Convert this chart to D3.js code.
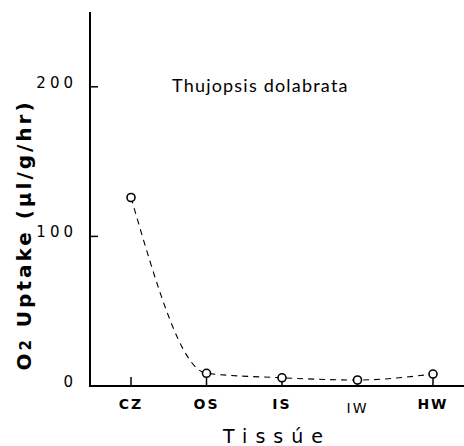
<!DOCTYPE html>
<html>
<head>
<meta charset="utf-8">
<script src="https://cdn.jsdelivr.net/npm/d3@7"></script>
<style>
  body { margin: 0; background: #fff; }
  svg { display: block; }
</style>
</head>
<body>
<div id="chart"></div>
<script>
const tissues = ["CZ", "OS", "IS", "IW", "HW"];
const uptake = [126, 8.5, 5.5, 4, 8];
const yTicks = [0, 100, 200];

const width = 464, height = 446;
const x = d3.scalePoint().domain(tissues).range([131, 433]);
const y = d3.scaleLinear().domain([0, 250]).range([386, 12]);
const axisX = 90;

const svg = d3.select("#chart").append("svg")
  .attr("width", width).attr("height", height);

// axes lines
svg.append("line").attr("x1", axisX).attr("x2", axisX)
  .attr("y1", y(250)).attr("y2", y(0) + 1)
  .attr("stroke", "#000").attr("stroke-width", 2);
svg.append("line").attr("x1", axisX - 1).attr("x2", width)
  .attr("y1", y(0)).attr("y2", y(0))
  .attr("stroke", "#000").attr("stroke-width", 2);

// y ticks (inside) and labels
svg.selectAll(".ytick").data(yTicks.filter(d => d > 0)).join("line")
  .attr("x1", axisX).attr("x2", axisX + 8)
  .attr("y1", d => y(d)).attr("y2", d => y(d))
  .attr("stroke", "#000").attr("stroke-width", 1.5);
svg.selectAll(".ylab").data(yTicks).join("text")
  .attr("x", 77).attr("y", d => y(d) + 1)
  .attr("text-anchor", "end")
  .attr("font-family", "DejaVu Sans")
  .attr("font-size", 15)
  .attr("letter-spacing", 4)
  .text(d => d);

// x ticks (upward)
svg.selectAll(".xtick").data(tissues).join("line")
  .attr("x1", d => x(d)).attr("x2", d => x(d))
  .attr("y1", y(0)).attr("y2", y(0) - 9)
  .attr("stroke", "#000").attr("stroke-width", 1.5);
svg.selectAll(".xlab").data(tissues).join("text")
  .attr("x", d => x(d)).attr("y", d => d === "IW" ? 413 : 409)
  .attr("text-anchor", "middle")
  .attr("font-family", "DejaVu Sans")
  .attr("font-weight", d => d === "IW" ? "normal" : "bold")
  .attr("font-size", 14)
  .attr("letter-spacing", 2)
  .text(d => d);

// axis titles
svg.append("text")
  .attr("x", 277).attr("y", 443)
  .attr("text-anchor", "middle")
  .attr("font-family", "DejaVu Sans")
  .attr("font-size", 19)
  .attr("letter-spacing", 8)
  .text("Tissúe");

svg.append("text")
  .attr("transform", "translate(31,235) rotate(-90)")
  .attr("text-anchor", "middle")
  .attr("font-family", "DejaVu Sans")
  .attr("font-weight", "bold")
  .attr("font-size", 20)
  .attr("letter-spacing", 3)
  .html('O<tspan font-size="15">2</tspan> Uptake (µl/g/hr)');

// species name
svg.append("text")
  .attr("x", 172).attr("y", 92)
  .attr("font-family", "Lato")
  .attr("font-size", 18)
  .attr("letter-spacing", 1.2)
  .text("Thujopsis dolabrata");

// dashed curve
const pts = tissues.map((t, i) => [x(t), y(uptake[i])]);
svg.append("path")
  .attr("d", d3.line().curve(d3.curveMonotoneX)(pts))
  .attr("fill", "none")
  .attr("stroke", "#000")
  .attr("stroke-width", 1.1)
  .attr("stroke-dasharray", "6,5");

svg.selectAll(".pt").data(pts).join("circle")
  .attr("cx", d => d[0]).attr("cy", d => d[1])
  .attr("r", 4)
  .attr("fill", "#fff")
  .attr("stroke", "#000")
  .attr("stroke-width", 1.6);
</script>
</body>
</html>
